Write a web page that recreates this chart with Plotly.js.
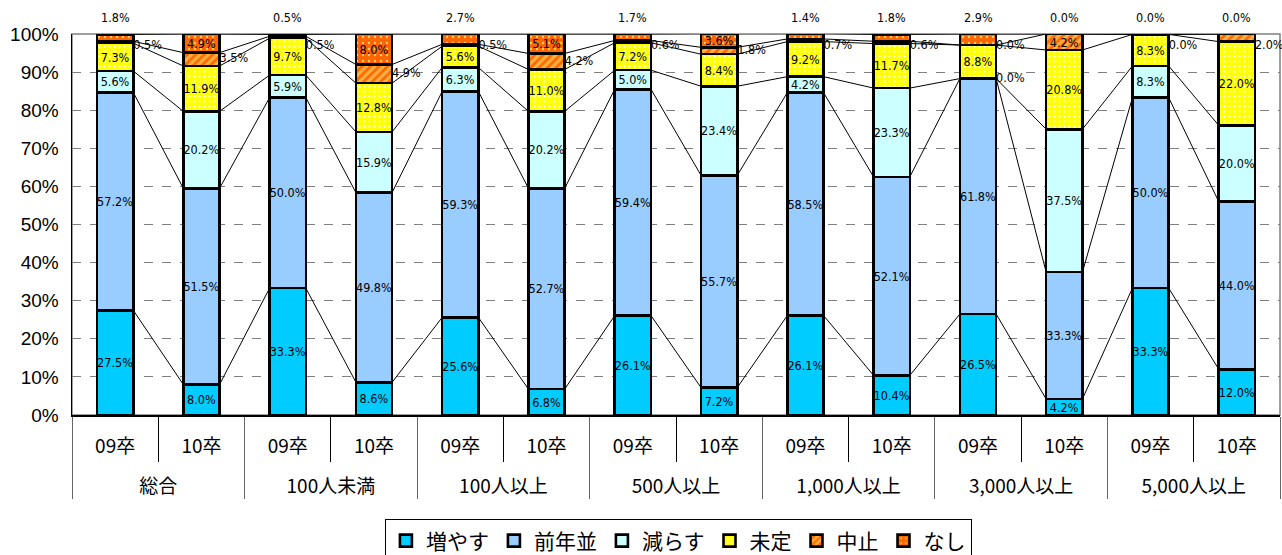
<!DOCTYPE html>
<html><head><meta charset="utf-8">
<script src="https://cdn.plot.ly/plotly-3.0.1.min.js"></script>
<style>html,body{margin:0;padding:0;background:#fff}#chart{width:1282px;height:555px}</style>
</head><body><div id="chart"></div>
<script>
// ---- data ----
const groups = ['総合','100人未満','100人以上','500人以上','1,000人以上','3,000人以上','5,000人以上'];
const years = ['09卒','10卒'];
const seriesNames = ['増やす','前年並','減らす','未定','中止','なし'];
const increase  = [27.5, 8.0,33.3, 8.6,25.6, 6.8,26.1, 7.2,26.1,10.4,26.5, 4.2,33.3,12.0];
const same      = [57.2,51.5,50.0,49.8,59.3,52.7,59.4,55.7,58.5,52.1,61.8,33.3,50.0,44.0];
const decrease  = [ 5.6,20.2, 5.9,15.9, 6.3,20.2, 5.0,23.4, 4.2,23.3, 0.0,37.5, 8.3,20.0];
const undecided = [ 7.3,11.9, 9.7,12.8, 5.6,11.0, 7.2, 8.4, 9.2,11.7, 8.8,20.8, 8.3,22.0];
const cancelled = [ 0.5, 3.5, 0.5, 4.9, 0.5, 4.2, 0.6, 1.8, 0.7, 0.6, 0.0, 4.2, 0.0, 2.0];
const none      = [ 1.8, 4.9, 0.5, 8.0, 2.7, 5.1, 1.7, 3.6, 1.4, 1.8, 2.9, 0.0, 0.0, 0.0];

// ---- styles ----
const FONT = '"Noto Sans CJK JP", "Noto Sans", sans-serif';
const LBL = '"Liberation Sans Narrow", "DejaVu Sans Condensed", "Liberation Sans", sans-serif';
const styles = [
  {color:'#00CCFF'},
  {color:'#99CCFF'},
  {color:'#CCFFFF'},
  {color:'#FFFF00', pattern:{shape:'.', fgcolor:'#FFFFFF', bgcolor:'#FFFF00', size:5, solidity:0.15, fillmode:'replace'}},
  {color:'#FF9933', pattern:{shape:'/', fgcolor:'#FF6600', bgcolor:'#FFB040', size:6, solidity:0.45, fillmode:'replace'}},
  {color:'#FF6600', pattern:{shape:'.', fgcolor:'#FFCC66', bgcolor:'#FF6600', size:6, solidity:0.12, fillmode:'replace'}}
];

const allSeries = [increase, same, decrease, undecided, cancelled, none];
const n = increase.length;
const xGroup = [], xYear = [];
// leading line break only pushes the outer label row lower (spacing)
for (let i = 0; i < n; i++) { xGroup.push('<br>' + groups[Math.floor(i/2)]); xYear.push(years[i%2]); }

const half = 0.21; // half bar width in category units (bargap 0.58)
const fmt = v => v.toFixed(1) + '%';

// cumulative tops
const cumTop = allSeries.map(() => []);
for (let i = 0; i < n; i++) {
  let c = 0;
  allSeries.forEach((s, k) => { c += s[i]; cumTop[k].push(c); });
}

// label placement
const rightX = [], rightY = [], rightT = [];
const annotations = [];
const lblFont = {family:LBL, size:12.5, color:'#000'};
function placement(k, i) {
  const v = allSeries[k][i];
  if (k === 5) return v >= 3 ? 'in' : 'top';
  if (k === 4) return (v >= 3 && none[i] === 0) ? 'in' : 'right';
  return v >= 3 ? 'in' : 'right';
}

const traces = [];
allSeries.forEach((s, k) => {
  const txt = s.map((v, i) => {
    const p = placement(k, i);
    const mid = cumTop[k][i] - v/2;
    if (p === 'right') { rightX.push(i + half); rightY.push(Math.min(mid, 96.9)); rightT.push(fmt(v)); }
    if (p === 'top') {
      annotations.push({xref:'x2', yref:'paper', x:i, y:1.043, text:fmt(v), showarrow:false,
        font:lblFont, xanchor:'center', yanchor:'middle'});
    }
    return p === 'in' ? fmt(v) : '';
  });
  const st = styles[k];
  const marker = {color: st.color, line:{color:'#000', width:2.6}};
  if (st.pattern) marker.pattern = st.pattern;
  traces.push({
    type:'bar', name: seriesNames[k], x:[xGroup, xYear], y:s,
    marker, text: txt, textposition:'inside', insidetextanchor:'middle',
    textangle:0, constraintext:'none',
    insidetextfont:lblFont,
    hoverinfo:'name+y'
  });
});

// series lines
const lx = [], ly = [];
for (let k = 0; k < allSeries.length; k++) {
  for (let i = 0; i < n-1; i++) {
    lx.push(i + half, i + 1 - half, null);
    ly.push(cumTop[k][i], cumTop[k][i+1], null);
  }
}
traces.push({type:'scatter', mode:'lines', x:lx, y:ly, xaxis:'x2', yaxis:'y',
  line:{color:'#000', width:1}, hoverinfo:'skip', showlegend:false});
traces.push({type:'scatter', mode:'text', x:rightX, y:rightY, text:rightT, xaxis:'x2', yaxis:'y',
  textposition:'middle right', textfont:lblFont, cliponaxis:false,
  hoverinfo:'skip', showlegend:false});

const layout = {
  width:1282, height:555,
  margin:{l:72, r:2, t:34, b:140, autoexpand:false},
  paper_bgcolor:'#fff', plot_bgcolor:'#fff',
  barmode:'stack', bargap:0.58,
  font:{family:FONT, color:'#000'},
  showlegend:true,
  legend:{orientation:'h', x:0.502, xanchor:'center', xref:'paper', y:0.064, yref:'container', yanchor:'top',
    bordercolor:'#000', borderwidth:1, font:{family:FONT, size:21, color:'#000'},
    traceorder:'normal', itemwidth:30},
  annotations,
  shapes:[{type:'rect', xref:'paper', yref:'paper', x0:0, x1:1, y0:0, y1:1,
    line:{color:'#808080', width:1.5}, layer:'below'}],
  xaxis:{type:'multicategory', showline:true, linecolor:'#000', linewidth:1.5, mirror:false,
    ticks:'outside', tickson:'boundaries', ticklen:45, tickcolor:'#000', ticklabelstandoff:14,
    showdividers:true, dividercolor:'#666', dividerwidth:1, automargin:false,
    tickfont:{family:FONT, size:19, color:'#000'}, showgrid:false, range:[-0.5, 13.5]},
  xaxis2:{overlaying:'x', range:[-0.5, 13.5], visible:false},
  yaxis:{range:[0,100], dtick:10, ticksuffix:'%', showline:true, linecolor:'#000', linewidth:1.5,
    gridcolor:'#808080', griddash:'dash', gridwidth:1, zeroline:false, automargin:false,
    ticklabelstandoff:8,
    tickfont:{family:'"Liberation Sans", Arial, sans-serif', size:19, color:'#000'}, ticks:''}
};

Plotly.newPlot('chart', traces, layout, {displayModeBar:false, staticPlot:true});
</script></body></html>
